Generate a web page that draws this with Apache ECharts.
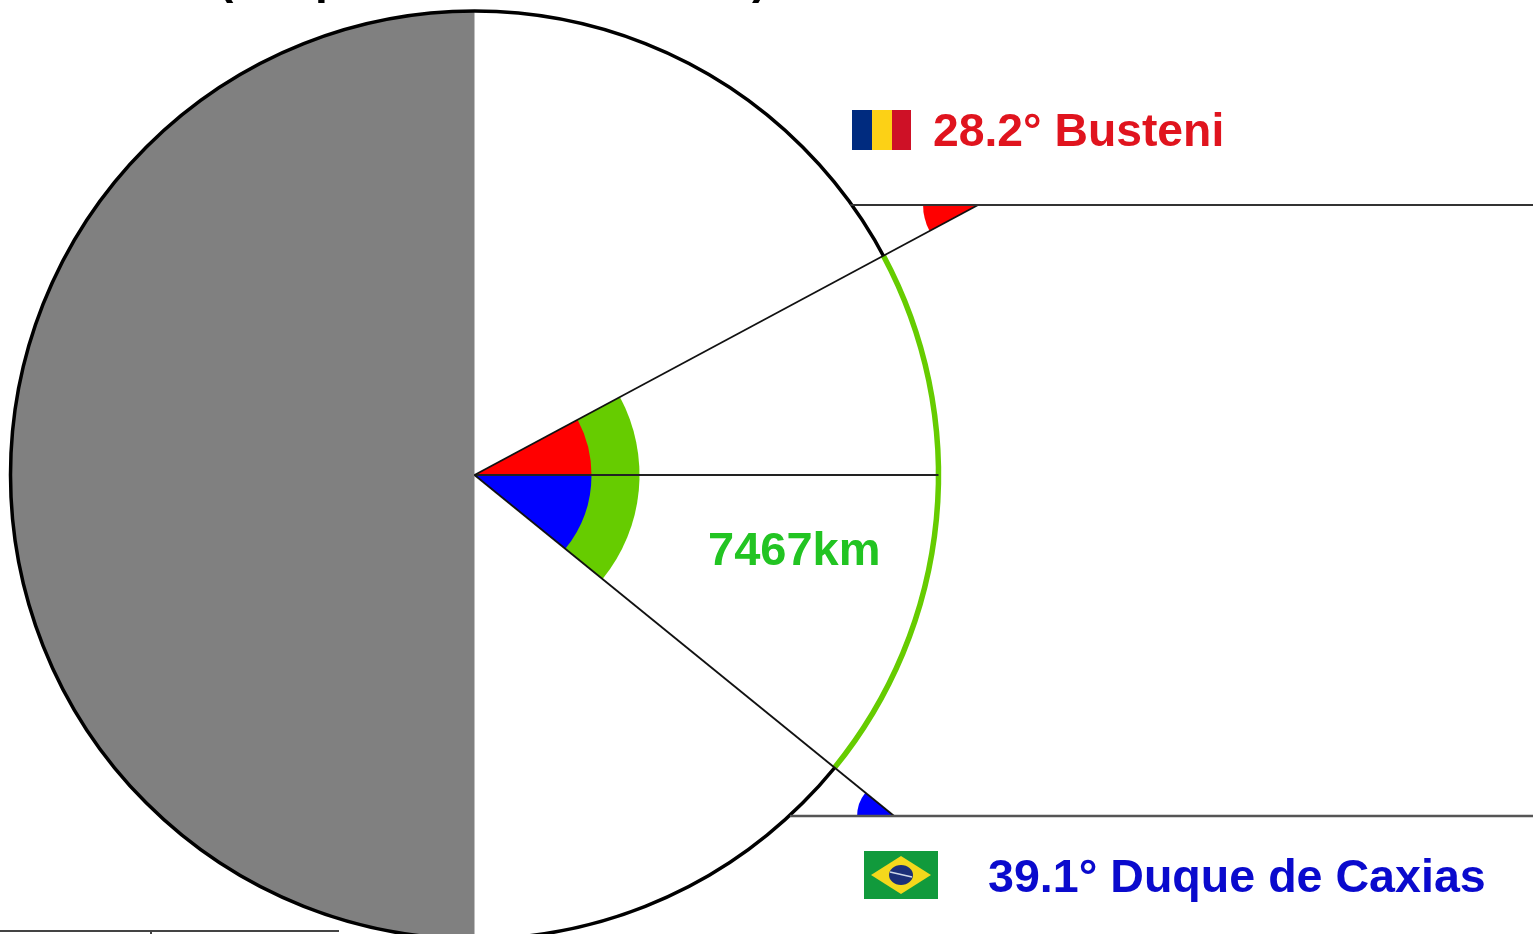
<!DOCTYPE html>
<html>
<head>
<meta charset="utf-8">
<style>html,body{margin:0;padding:0;background:#fff}#c{width:1533px;height:934px}</style>
<script src="https://cdn.jsdelivr.net/npm/echarts@6/dist/echarts.min.js"></script>
</head>
<body>
<div id="c"></div>
<script>
var latitudes = [28.2, 39.1];
var cityNames = ['Busteni', 'Duque de Caxias'];
var distanceKm = [7467];
var clippedTitleGlyphs = ['(', 'p', ')'];

var latLabels = latitudes.map(function (v, i) { return v.toFixed(1) + '\u00b0 ' + cityNames[i]; });
var distanceLabel = distanceKm[0] + 'km';

var DEG = Math.PI / 180;
var C = [474.5, 475], R = 464;
var northA = -latitudes[0] * DEG, southA = latitudes[1] * DEG;
var topY = 205, botY = 816;
var topApex = [C[0] + (C[1] - topY) / Math.tan(latitudes[0] * DEG), topY];
var botApex = [C[0] + (botY - C[1]) / Math.tan(latitudes[1] * DEG), botY];
var RED = '#ff0000', BLUE = '#0000ff', GREEN = '#66cc00';

function sector(api, c, r, a0, a1, fill, r0) {
  var p = api.coord(c);
  return { type: 'sector', silent: true,
    shape: { cx: p[0], cy: p[1], r: r, r0: r0 || 0, startAngle: a0, endAngle: a1, clockwise: true },
    style: { fill: fill, stroke: null } };
}
function arc(api, c, r, a0, a1, color, w) {
  var p = api.coord(c);
  return { type: 'arc', silent: true,
    shape: { cx: p[0], cy: p[1], r: r, startAngle: a0, endAngle: a1, clockwise: true },
    style: { fill: null, stroke: color, lineWidth: w } };
}
function line(api, a, b, color, w) {
  var p = api.coord(a), q = api.coord(b);
  return { type: 'line', silent: true,
    shape: { x1: p[0], y1: p[1], x2: q[0], y2: q[1] },
    style: { stroke: color, lineWidth: w } };
}
function rect(api, x, y, w, h, fill) {
  var p = api.coord([x, y]);
  return { type: 'rect', silent: true, shape: { x: p[0], y: p[1], width: w, height: h }, style: { fill: fill } };
}
function text(api, x, y, s, color, size) {
  var p = api.coord([x, y]);
  return { type: 'text', silent: true,
    style: { x: p[0], y: p[1], text: s, fill: color, align: 'left', verticalAlign: 'middle',
      font: 'bold ' + size + 'px "Liberation Sans", Arial, sans-serif' } };
}

function renderDiagram(params, api) {
  var kids = [];
  // Half-dark disc
  kids.push(sector(api, C, R, Math.PI / 2, Math.PI * 3 / 2, '#808080'));
  kids.push(arc(api, C, R, 0, Math.PI * 2, '#000000', 3.5));
  kids.push(arc(api, C, R, northA, southA, GREEN, 5.5));
  // Centre angles
  kids.push(sector(api, C, 165, northA, southA, GREEN));
  kids.push(sector(api, C, 117, northA, 0, RED));
  kids.push(sector(api, C, 117, 0, southA, BLUE));
  // Sun-ray wedges at the horizontals
  kids.push(sector(api, topApex, 55, Math.PI - latitudes[0] * DEG, Math.PI, RED));
  kids.push(sector(api, botApex, 37, Math.PI, Math.PI + latitudes[1] * DEG, BLUE));
  // Lines
  kids.push(line(api, C, [C[0] + R, C[1]], '#222222', 1.8));
  kids.push(line(api, C, topApex, '#111111', 1.8));
  kids.push(line(api, C, botApex, '#111111', 1.8));
  kids.push(line(api, [850, topY], [1533, topY], '#333333', 1.8));
  kids.push(line(api, [790, botY], [1533, botY], '#555555', 2.5));
  // Romania flag
  kids.push(rect(api, 852, 110, 20, 40, '#002b7f'));
  kids.push(rect(api, 872, 110, 20, 40, '#fcd116'));
  kids.push(rect(api, 892, 110, 19, 40, '#ce1126'));
  // Brazil flag
  kids.push(rect(api, 864, 851, 74, 48, '#119a3c'));
  var d = [[871, 875], [901, 856], [931, 875], [901, 894]].map(function (q) { return api.coord(q); });
  kids.push({ type: 'polygon', silent: true, shape: { points: d }, style: { fill: '#f4d81c' } });
  var e = api.coord([901, 875]);
  kids.push({ type: 'ellipse', silent: true, shape: { cx: e[0], cy: e[1], rx: 12, ry: 10 }, style: { fill: '#1b2f78' } });
  kids.push(line(api, [890, 872], [912, 877], '#cfd8e8', 1.5));
  // Text
  kids.push(text(api, 933, 133, latLabels[0], '#e0141e', 46.3));
  kids.push(text(api, 988, 879, latLabels[1], '#0a0acd', 46.6));
  kids.push(text(api, 708, 552, distanceLabel, '#22c422', 47));
  // Tips of the cropped headline
  kids.push(text(api, 218, -20, clippedTitleGlyphs[0], '#000000', 46));
  kids.push(text(api, 315, -20, clippedTitleGlyphs[1], '#000000', 46));
  kids.push(text(api, 752, -20, clippedTitleGlyphs[2], '#000000', 46));
  // Table edge, bottom left
  kids.push(line(api, [0, 931], [339, 931], '#444444', 2));
  kids.push(line(api, [151, 930], [151, 934], '#444444', 2));
  return { type: 'group', children: kids };
}

var chart = echarts.init(document.getElementById('c'), null, { renderer: 'canvas' });
chart.setOption({
  animation: false,
  backgroundColor: '#ffffff',
  grid: { left: 0, right: 0, top: 0, bottom: 0 },
  xAxis: { type: 'value', min: 0, max: 1533, show: false },
  yAxis: { type: 'value', min: 0, max: 934, inverse: true, show: false },
  tooltip: { show: false },
  series: [{ type: 'custom', coordinateSystem: 'cartesian2d', clip: false, silent: true,
    renderItem: renderDiagram, data: [[0, 0]] }]
});
</script>
</body>
</html>
